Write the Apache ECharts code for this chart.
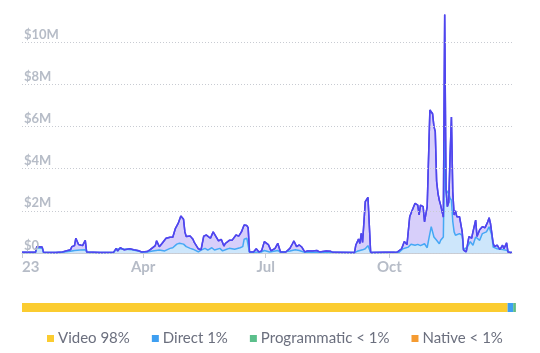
<!DOCTYPE html>
<html>
<head>
<meta charset="utf-8">
<script src="https://cdn.jsdelivr.net/npm/echarts@6/dist/echarts.min.js"></script>
<style>
  html, body { margin: 0; padding: 0; background: #fff; }
  #main { width: 540px; height: 353px; }
</style>
</head>
<body>
<div id="main"></div>
<script>
// day of year 2023 (0 = Jan 1) and revenue in $M
const totalDays = [0, 6, 10, 11, 15, 16, 25, 30, 36, 37, 39, 40, 42, 43, 45, 47, 48, 58, 68, 70, 71, 73, 76, 77, 80, 83, 86, 89, 93, 95, 99, 100, 102, 104, 107, 110, 112, 114, 116, 118, 120, 121, 122, 125, 127, 128, 131, 133, 135, 137, 140, 142, 143, 146, 148, 150, 151, 154, 156, 159, 161, 163, 165, 167, 168, 169, 172, 174, 176, 178, 180, 183, 185, 188, 190, 192, 196, 199, 201, 202, 204, 206, 208, 210, 212, 216, 219, 221, 226, 229, 231, 247, 248, 250, 251, 252, 253, 255, 257, 258, 259, 269, 277, 279, 282, 284, 286, 288, 289, 291, 292, 294, 295, 296, 298, 299, 301, 302, 303, 304, 305, 306, 307, 308, 309, 310, 311, 313, 314, 315, 316, 317, 318, 319, 320, 321, 322, 323, 325, 327, 328, 330, 332, 334, 335, 337, 338, 340, 342, 344, 346, 347, 348, 350, 351, 353, 355, 357, 358, 360, 361, 363, 364];
const totalVals = [0.03, 0.03, 0.03, 0.3, 0.28, 0.03, 0.02, 0.05, 0.15, 0.3, 0.35, 0.7, 0.4, 0.38, 0.35, 0.6, 0.05, 0.02, 0.03, 0.22, 0.1, 0.25, 0.15, 0.2, 0.2, 0.15, 0.12, 0.05, 0.07, 0.15, 0.35, 0.58, 0.3, 0.45, 0.7, 0.75, 0.75, 1.17, 1.4, 1.75, 1.6, 1.0, 0.78, 0.8, 0.65, 0.5, 0.2, 0.15, 0.8, 0.85, 0.7, 1.0, 0.95, 0.57, 0.65, 0.33, 0.45, 0.6, 0.6, 0.85, 0.8, 1.0, 1.33, 1.3, 1.2, 0.05, 0.05, 0.2, 0.05, 0.1, 0.54, 0.4, 0.1, 0.22, 0.46, 0.05, 0.05, 0.22, 0.45, 0.57, 0.3, 0.38, 0.27, 0.05, 0.1, 0.1, 0.12, 0.05, 0.1, 0.08, 0.03, 0.02, 0.38, 0.66, 0.45, 0.93, 0.5, 2.43, 2.64, 2.7, 0.02, 0.03, 0.03, 0.05, 0.2, 0.54, 0.4, 1.72, 1.88, 2.2, 2.35, 2.27, 1.8, 2.27, 2.2, 1.48, 2.2, 2.15, 6.78, 6.8, 6.6, 6.0, 5.75, 3.4, 2.83, 2.5, 2.27, 1.7, 11.3, 3.0, 2.2, 2.4, 4.6, 6.45, 2.9, 1.8, 2.0, 1.72, 1.72, 1.0, 0.14, 0.05, 0.78, 0.7, 1.0, 1.56, 0.78, 1.1, 1.25, 1.2, 1.48, 1.67, 1.4, 0.46, 0.3, 0.37, 0.16, 0.37, 0.2, 0.48, 0.05, 0.02, 0.02];

const directDays = [0, 10, 11, 15, 16, 28, 36, 39, 43, 47, 49, 68, 70, 73, 77, 82, 86, 89, 93, 97, 102, 106, 110, 112, 115, 117, 120, 122, 125, 127, 131, 133, 136, 138, 141, 143, 147, 149, 152, 154, 158, 162, 164, 165, 167, 168, 169, 178, 180, 184, 190, 192, 199, 203, 206, 210, 247, 249, 253, 255, 257, 258, 259, 269, 280, 283, 287, 289, 292, 294, 296, 299, 301, 302, 304, 305, 306, 308, 310, 311, 313, 314, 315, 316, 317, 318, 319, 320, 321, 322, 325, 327, 328, 331, 333, 335, 337, 340, 342, 345, 347, 349, 350, 353, 357, 360, 362, 364];
const directVals = [0.02, 0.02, 0.25, 0.22, 0.02, 0.02, 0.08, 0.12, 0.14, 0.15, 0.02, 0.02, 0.18, 0.2, 0.18, 0.15, 0.1, 0.04, 0.05, 0.1, 0.14, 0.1, 0.22, 0.25, 0.42, 0.46, 0.42, 0.3, 0.22, 0.18, 0.05, 0.14, 0.22, 0.14, 0.25, 0.14, 0.22, 0.1, 0.18, 0.22, 0.18, 0.25, 0.3, 0.65, 0.7, 0.65, 0.03, 0.05, 0.12, 0.05, 0.12, 0.03, 0.1, 0.15, 0.12, 0.03, 0.02, 0.08, 0.15, 0.2, 0.35, 0.3, 0.02, 0.02, 0.03, 0.2, 0.28, 0.41, 0.37, 0.41, 0.35, 0.44, 0.25, 0.6, 1.25, 1.17, 0.76, 0.6, 0.44, 0.6, 0.76, 5.3, 3.0, 2.9, 2.8, 2.6, 2.5, 1.5, 1.0, 0.84, 0.92, 0.84, 0.14, 0.3, 0.54, 0.37, 0.76, 0.6, 0.92, 1.0, 1.24, 0.84, 0.28, 0.2, 0.16, 0.13, 0.03, 0.02];

// x tick positions (day of year) and their labels
const tickDays = [0, 90, 181, 273];
const tickLabels = ['23', 'Apr', 'Jul', 'Oct'];

// share bar
const shareNames = ['Video 98%', 'Direct 1%', 'Programmatic < 1%', 'Native < 1%'];
const shareVals = [98.3, 1.13, 0.55, 0.02];
const shareColors = ['#fbcc30', '#3e9ff1', '#5bbf8b', '#f59b32'];

const chart = echarts.init(document.getElementById('main'));

const totalData = totalDays.map((d, i) => [d, totalVals[i]]);
const directData = directDays.map((d, i) => [d, directVals[i]]);

const shareSeries = shareNames.map((name, i) => ({
    name: name,
    type: 'bar',
    stack: 'share',
    xAxisIndex: 1,
    yAxisIndex: 1,
    barWidth: 9,
    data: [shareVals[i]],
    itemStyle: { color: shareColors[i] },
    silent: true
}));

chart.setOption({
    animation: false,
    grid: [
        { left: 22, right: 28, top: 42, bottom: 100 },
        { left: 22, right: 24, top: 303, height: 9 }
    ],
    legend: {
        data: shareNames,
        left: 42,
        top: 326,
        icon: 'rect',
        itemWidth: 7,
        itemHeight: 7,
        itemGap: 22,
        textStyle: { color: '#6b6f7e', fontSize: 15, fontFamily: 'Lato', padding: [0, 0, 0, -1] }
    },
    xAxis: [
        {
            type: 'value',
            min: 0,
            max: 364,
            gridIndex: 0,
            splitLine: { show: false },
            axisLine: { lineStyle: { color: '#c9cdd5' } },
            axisTick: { show: true, customValues: tickDays, length: 5, lineStyle: { color: '#c9cdd5' } },
            axisLabel: {
                customValues: tickDays,
                formatter: v => tickLabels[tickDays.indexOf(v)],
                alignMinLabel: 'left',
                color: '#b6bcc7',
                fontFamily: 'Lato',
                fontWeight: 'bold',
                fontSize: 15,
                margin: 7
            }
        },
        { type: 'value', gridIndex: 1, min: 0, max: 100, show: false }
    ],
    yAxis: [
        {
            type: 'value',
            min: 0,
            max: 10,
            interval: 2,
            gridIndex: 0,
            axisLine: { show: false },
            axisTick: { show: false },
            splitLine: { lineStyle: { color: '#c8cbd2', type: [1, 2], width: 1 } },
            axisLabel: {
                inside: true,
                margin: 2,
                verticalAlign: 'bottom',
                formatter: v => v === 0 ? '$0' : '$' + v + 'M',
                color: '#b6bcc7',
                fontFamily: 'Lato',
                fontWeight: 'bold',
                fontSize: 13,
                padding: [0, 0, 1, 0]
            },
            z: 5
        },
        { type: 'category', gridIndex: 1, data: ['share'], show: false }
    ],
    series: [
        {
            type: 'line',
            data: totalData,
            symbol: 'none',
            clip: false,
            lineStyle: { color: '#5248ef', width: 1.5 },
            areaStyle: { color: '#d7cffa', opacity: 1 },
            silent: true
        },
        {
            type: 'line',
            data: directData,
            symbol: 'none',
            clip: false,
            lineStyle: { color: '#45a8f5', width: 1.5 },
            areaStyle: { color: '#cde6fb', opacity: 1 },
            silent: true
        },
        {
            type: 'line',
            data: totalData,
            symbol: 'none',
            clip: false,
            lineStyle: { color: '#4f46ee', width: 1.5 },
            silent: true
        }
    ].concat(shareSeries)
});
</script>
</body>
</html>
